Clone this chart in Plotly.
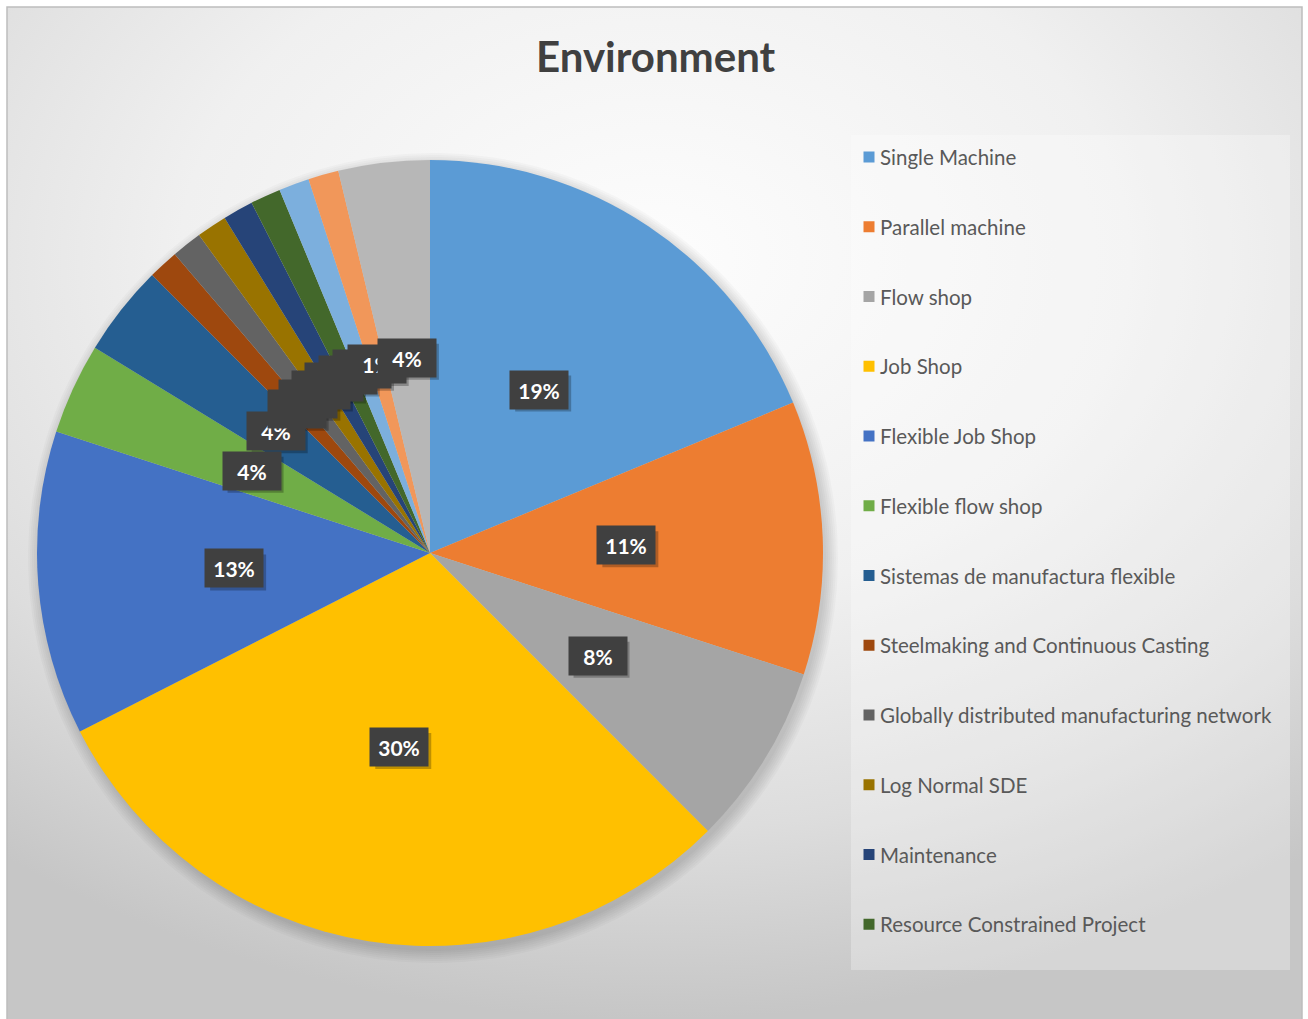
import numpy as np
import plotly.graph_objects as go

# ---------------- data ----------------
categories = [
    "Single Machine", "Parallel machine", "Flow shop", "Job Shop",
    "Flexible Job Shop", "Flexible flow shop", "Sistemas de manufactura flexible",
    "Steelmaking and Continuous Casting", "Globally distributed manufacturing network",
    "Log Normal SDE", "Maintenance", "Resource Constrained Project",
    "Other 13", "Other 14", "Other 15",
]
counts = [15, 9, 6, 24, 10, 3, 3, 1, 1, 1, 1, 1, 1, 1, 3]
colors = [
    "#5B9BD5", "#ED7D31", "#A5A5A5", "#FFC000", "#4472C4", "#70AD47",
    "#255E91", "#9E480E", "#636363", "#997300", "#264478", "#43682B",
    "#7CAFDD", "#F1975A", "#B7B7B7",
]
legend_shown = 12  # legend in the reference lists only the first 12 entries
title_text = "Environment"

# ---------------- layout geometry (pixels) ----------------
W, H = 1308, 1019
cx, cy, R = 430, 553, 393
label_r = 0.5 * R

fig = go.Figure()

# background with radial gradient
bx0, bx1, by0, by1 = -400, 1710, -500, 1019
fig.add_trace(go.Scatter(
    x=[bx0, bx1, bx1, bx0, bx0], y=[by0, by0, by1, by1, by0],
    mode="lines", line=dict(width=0), fill="toself",
    fillgradient=dict(type="radial",
                      colorscale=[[0, "#fdfdfd"], [0.45, "#f0f0f0"],
                                  [0.75, "#dddddd"], [1, "#c6c6c6"]]),
    hoverinfo="skip", showlegend=False))

# soft pie shadow
t = np.linspace(0, 2 * np.pi, 240)
for dr in [12, 10, 8, 6, 4, 2, 0]:
    fig.add_trace(go.Scatter(
        x=cx + 3 + (R + dr) * np.cos(t), y=cy + 5 + (R + dr) * np.sin(t),
        mode="lines", line=dict(width=0), fill="toself",
        fillcolor="rgba(0,0,0,0.022)", hoverinfo="skip", showlegend=False))

# legend box
lx0, lx1, ly0, ly1 = 851, 1290, 135, 970
fig.add_trace(go.Scatter(
    x=[lx0, lx1, lx1, lx0, lx0], y=[ly0, ly0, ly1, ly1, ly0],
    mode="lines", line=dict(width=0), fill="toself",
    fillcolor="rgba(255,255,255,0.28)", hoverinfo="skip", showlegend=False))

# legend entries
ly_first, ly_step = 157, 69.75
leg_y = [ly_first + i * ly_step for i in range(legend_shown)]
fig.add_trace(go.Scatter(
    x=[869] * legend_shown, y=leg_y, mode="markers",
    marker=dict(symbol="square", size=11, color=colors[:legend_shown], line=dict(width=0)),
    hoverinfo="skip", showlegend=False))

annotations = []
shapes = []
for i in range(legend_shown):
    annotations.append(dict(
        x=878, y=leg_y[i], xref="x", yref="y", text=categories[i],
        showarrow=False, xanchor="left", yanchor="middle",
        font=dict(family="Lato", size=20.5, color="#595959")))

# pie
fig.add_trace(go.Pie(
    labels=categories, values=counts, sort=False, direction="clockwise",
    rotation=0, marker=dict(colors=colors, line=dict(width=0)),
    textinfo="none", showlegend=False,
    domain=dict(x=[(cx - R) / W, (cx + R) / W],
                y=[1 - (cy + R) / H, 1 - (cy - R) / H])))

# data labels
bw, bh = 56, 36
total = sum(counts)
cum = 0
for v in counts:
    mid = (cum + v / 2) / total * 2 * np.pi
    cum += v
    x = cx + label_r * np.sin(mid)
    y = cy - label_r * np.cos(mid)
    pct = f"{round(v / total * 100 + 1e-9):.0f}%"
    shapes.append(dict(
        type="rect", xref="x", yref="y", layer="above",
        x0=x - bw / 2 + 4, x1=x + bw / 2 + 4, y0=y - bh / 2 + 4, y1=y + bh / 2 + 4,
        fillcolor="rgba(0,0,0,0.25)", line=dict(width=0)))
    annotations.append(dict(
        x=x, y=y, xref="x", yref="y", text=f"<b>{pct}</b>", showarrow=False,
        width=bw, height=bh, bgcolor="#404040",
        font=dict(family="Lato", size=21, color="#ffffff")))

# title
annotations.append(dict(
    x=656, y=56, xref="x", yref="y", text=f"<b>{title_text}</b>",
    showarrow=False, xanchor="center", yanchor="middle",
    font=dict(family="Lato", size=42, color="#404040")))

# frame and white outer margin
shapes += [
    dict(type="rect", xref="x", yref="y", x0=0, x1=7, y0=0, y1=H,
         fillcolor="#ffffff", line=dict(width=0), layer="above"),
    dict(type="rect", xref="x", yref="y", x0=0, x1=W, y0=0, y1=7,
         fillcolor="#ffffff", line=dict(width=0), layer="above"),
    dict(type="rect", xref="x", yref="y", x0=1302, x1=W, y0=0, y1=H,
         fillcolor="#ffffff", line=dict(width=0), layer="above"),
    dict(type="rect", xref="x", yref="y", x0=7, x1=1302, y0=7, y1=1025,
         line=dict(color="#bdbdbd", width=1.5), layer="above"),
]

fig.update_layout(
    width=W, height=H, margin=dict(l=0, r=0, t=0, b=0),
    paper_bgcolor="#ffffff", plot_bgcolor="rgba(0,0,0,0)",
    xaxis=dict(range=[0, W], visible=False, fixedrange=True),
    yaxis=dict(range=[H, 0], visible=False, fixedrange=True),
    annotations=annotations, shapes=shapes,
)

fig.write_html("out.html")
